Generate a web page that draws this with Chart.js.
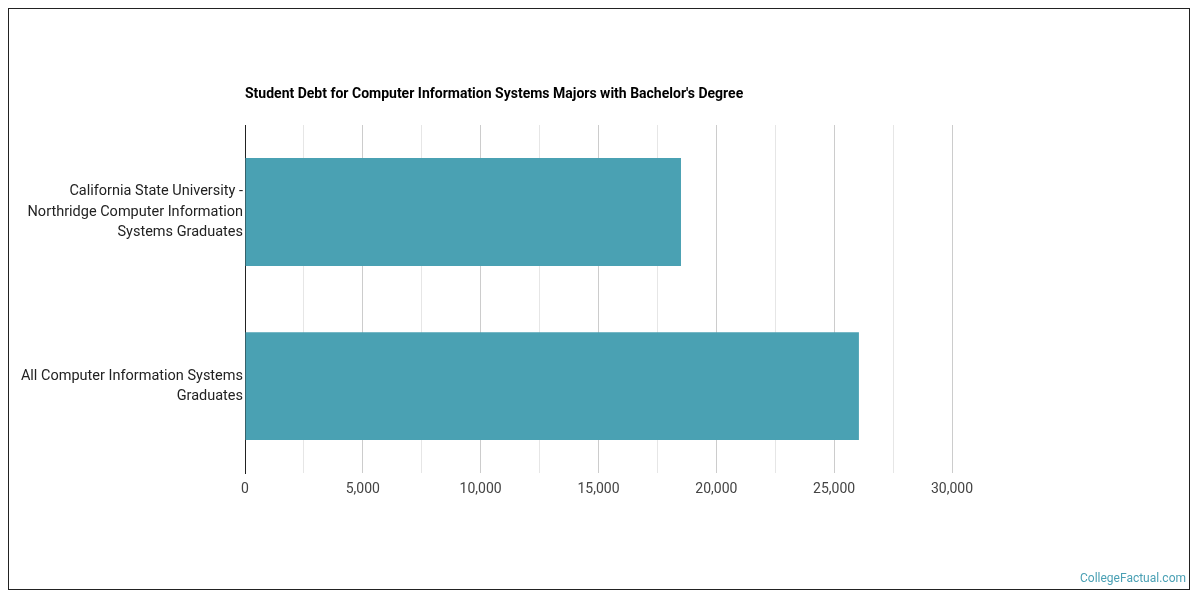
<!DOCTYPE html>
<html>
<head>
<script src="https://cdn.jsdelivr.net/npm/chart.js@4"></script>
<style>
  body { margin: 0; background: #fff; }
  #wrap { position: absolute; left: 8px; top: 8px; width: 1180px; height: 580px; border: 1px solid #222; }
  #title { position: absolute; left: 245px; top: 85px; font: bold 14px Roboto, sans-serif; color: #000; }
  #note { position: absolute; right: 14px; bottom: 15px; font: 12px Roboto, sans-serif; color: #4aa0b4; }
</style>
</head>
<body>
<div style="position:relative;width:1200px;height:600px">
  <canvas id="chartCanvas" width="1200" height="600"></canvas>
  <div id="wrap"></div>
  <div id="title">Student Debt for Computer Information Systems Majors with Bachelor's Degree</div>
  <div id="note">CollegeFactual.com</div>
</div>
<script>
const categories = [
    ["California State University -", "Northridge Computer Information", "Systems Graduates"],
    ["All Computer Information Systems", "Graduates"]
];
const debtValues = [18500, 26050];

new Chart(document.getElementById("chartCanvas"), {
    type: "bar",
    data: {
        labels: categories,
        datasets: [{
            data: debtValues,
            backgroundColor: "#4aa1b3",
            barPercentage: 0.62,
            categoryPercentage: 1
        }]
    },
    options: {
        indexAxis: "y",
        responsive: false,
        animation: false,
        layout: { padding: { left: 10, right: 248, top: 125, bottom: 94 } },
        plugins: {
            legend: { display: false },
            tooltip: { enabled: false },
            title: { display: false }
        },
        scales: {
            x: {
                min: 0, max: 30000,
                ticks: {
                    stepSize: 2500,
                    color: "#444",
                    font: { family: "Roboto", size: 14 },
                    padding: 8,
                    callback: v => v % 5000 === 0 ? v.toLocaleString("en-US") : ""
                },
                grid: {
                    color: c => c.tick && c.tick.value % 5000 === 0 ? "#cccccc" : "#e6e6e6",
                    drawTicks: false
                },
                border: { display: false }
            },
            y: {
                afterFit: s => { s.width = 235; },
                ticks: { color: "#222", font: { family: "Roboto", size: 14.5, lineHeight: 1.4 }, padding: 2 },
                grid: { display: false, drawTicks: false },
                border: { color: "#222", width: 1 }
            }
        }
    }
});
</script>
</body>
</html>
